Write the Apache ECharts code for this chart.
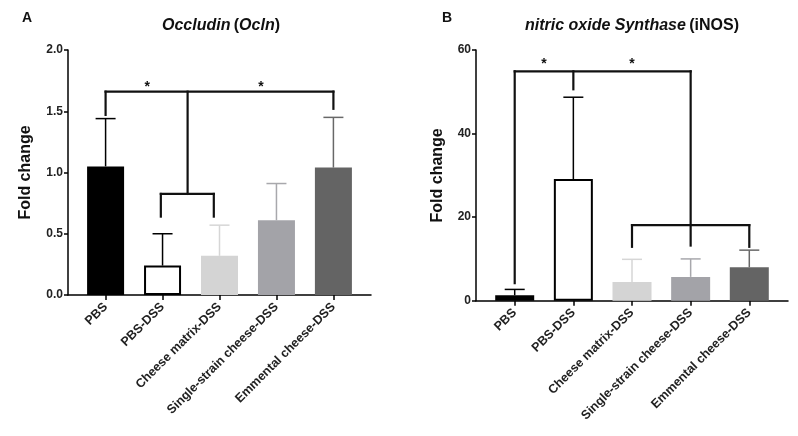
<!DOCTYPE html>
<html><head><meta charset="utf-8">
<script src="https://cdn.jsdelivr.net/npm/echarts@6/dist/echarts.min.js"></script>
<style>html,body{margin:0;padding:0;background:#fff}#c{width:798px;height:436px}</style>
</head><body><div id="c"></div>
<script>
const categories = ['PBS', 'PBS-DSS', 'Cheese matrix-DSS', 'Single-strain cheese-DSS', 'Emmental cheese-DSS'];
const occludinMean = [1.05, 0.24, 0.32, 0.61, 1.04];
const occludinErrTop = [1.44, 0.50, 0.57, 0.91, 1.45];
const inosMean = [1.3, 29.1, 4.5, 5.7, 8.0];
const inosErrTop = [2.7, 48.7, 9.9, 10.0, 12.1];
const yTicksA = [0, 0.5, 1.0, 1.5, 2.0];
const yTicksB = [0, 20, 40, 60];
// significance brackets: segments [x1, y1, x2, y2] in data units
const bracketsA = [[0, 1.47, 0, 1.66], [0, 1.66, 4, 1.66], [4, 1.66, 4, 1.52], [1.44, 1.66, 1.44, 0.825], [0.97, 0.825, 1.9, 0.825], [0.97, 0.825, 0.97, 0.64], [1.9, 0.825, 1.9, 0.64]];
const starsA = [[0.73, 1.70], [2.73, 1.70]];
const bracketsB = [[0, 4.2, 0, 54.9], [0, 54.9, 3, 54.9], [1, 54.9, 1, 50.6], [3, 54.9, 3, 13.2], [2, 18.1, 4, 18.1], [2, 18.1, 2, 12.9], [4, 18.1, 4, 12.9]];
const starsB = [[0.5, 56.5], [2.0, 56.5]];

const barColors = ['#000000', '#ffffff', '#d4d4d4', '#a3a3a8', '#646464'];
const errColors = ['#000000', '#000000', '#d6d6d6', '#a8a8ac', '#686868'];
const FONT = 'Liberation Sans, Arial, sans-serif';

const chart = echarts.init(document.getElementById('c'));

function xAxisCfg(gi) {
  return {
    type: 'value', gridIndex: gi, min: -0.66, max: 4.66,
    splitLine: { show: false },
    axisLine: { show: true, onZero: false, lineStyle: { color: '#000', width: 1.5 } },
    axisTick: { show: true, customValues: [0, 1, 2, 3, 4], length: 5, lineStyle: { color: '#000', width: 1.5 } },
    axisLabel: {
      customValues: [0, 1, 2, 3, 4], rotate: 45, margin: 10,
      formatter: v => categories[Math.round(v)],
      fontWeight: 'bold', fontSize: 12.5, color: '#222', fontFamily: FONT
    }
  };
}
function yAxisCfg(gi, max, interval, dec, gap) {
  return {
    type: 'value', gridIndex: gi, min: 0, max: max, interval: interval,
    name: 'Fold change', nameLocation: 'middle', nameGap: gap, nameRotate: 90,
    nameTextStyle: { fontWeight: 'bold', fontSize: 16, color: '#111', fontFamily: FONT },
    splitLine: { show: false },
    axisLine: { show: true, onZero: false, lineStyle: { color: '#000', width: 1.5 } },
    axisTick: { show: true, length: 4, lineStyle: { color: '#000', width: 1.5 } },
    axisLabel: { formatter: v => v.toFixed(dec), margin: 5, fontWeight: 'bold', fontSize: 12, color: '#222', fontFamily: FONT }
  };
}
function barSeries(gi, means, width) {
  return {
    type: 'bar', xAxisIndex: gi, yAxisIndex: gi, barWidth: width, z: 3,
    data: means.map((m, i) => ({
      value: [i, m],
      itemStyle: { color: barColors[i], borderColor: i === 1 ? '#000' : barColors[i], borderWidth: i === 1 ? 2 : 0 }
    }))
  };
}
function errSeries(gi, means, tops) {
  return {
    type: 'custom', xAxisIndex: gi, yAxisIndex: gi, z: 2,
    data: means.map((m, i) => [i, m, tops[i]]),
    renderItem: (params, api) => {
      const p0 = api.coord([api.value(0), api.value(1)]);
      const p1 = api.coord([api.value(0), api.value(2)]);
      const c = errColors[params.dataIndex];
      return { type: 'group', children: [
        { type: 'line', shape: { x1: p0[0], y1: p0[1], x2: p1[0], y2: p1[1] }, style: { stroke: c, lineWidth: 1.5 } },
        { type: 'line', shape: { x1: p1[0] - 10, y1: p1[1], x2: p1[0] + 10, y2: p1[1] }, style: { stroke: c, lineWidth: 1.5 } }
      ] };
    }
  };
}
function bracketSeries(gi, segs) {
  return {
    type: 'custom', xAxisIndex: gi, yAxisIndex: gi, z: 5,
    data: segs,
    renderItem: (params, api) => {
      const a = api.coord([api.value(0), api.value(1)]);
      const b = api.coord([api.value(2), api.value(3)]);
      return { type: 'line', shape: { x1: a[0], y1: a[1], x2: b[0], y2: b[1] }, style: { stroke: '#111', lineWidth: 2.2, lineCap: 'square' } };
    }
  };
}
function starSeries(gi, stars) {
  return {
    type: 'custom', xAxisIndex: gi, yAxisIndex: gi, z: 5,
    data: stars,
    renderItem: (params, api) => {
      const p = api.coord([api.value(0), api.value(1)]);
      return { type: 'text', x: p[0], y: p[1], style: { text: '*', align: 'center', verticalAlign: 'middle', fontSize: 14, fontWeight: 'bold', fill: '#111', fontFamily: FONT } };
    }
  };
}

const richTitle = {
  i: { fontStyle: 'italic', fontWeight: 'bold', fontSize: 16, fontFamily: FONT, fill: '#111' },
  n: { fontStyle: 'normal', fontWeight: 'bold', fontSize: 16, fontFamily: FONT, fill: '#111' }
};

chart.setOption({
  animation: false,
  backgroundColor: '#fff',
  grid: [
    { left: 68, right: 798 - 371, top: 50, bottom: 436 - 295 },
    { left: 476, right: 10, top: 50, bottom: 436 - 300.7 }
  ],
  xAxis: [xAxisCfg(0), xAxisCfg(1)],
  yAxis: [yAxisCfg(0, 2, 0.5, 1, 34), yAxisCfg(1, 60, 20, 0, 30)],
  graphic: [
    { type: 'text', left: 22, top: 11, style: { text: 'A', fontSize: 14, fontWeight: 'bold', fill: '#111', fontFamily: FONT } },
    { type: 'text', left: 442, top: 11, style: { text: 'B', fontSize: 14, fontWeight: 'bold', fill: '#111', fontFamily: FONT } },
    { type: 'text', x: 221, y: 26, style: { text: '{i|Occludin} {n|(}{i|Ocln}{n|)}', align: 'center', verticalAlign: 'middle', rich: richTitle } },
    { type: 'text', x: 632, y: 26, style: { text: '{i|nitric oxide Synthase} {n|(iNOS)}', align: 'center', verticalAlign: 'middle', rich: richTitle } }
  ],
  series: [
    errSeries(0, occludinMean, occludinErrTop),
    barSeries(0, occludinMean, 37),
    bracketSeries(0, bracketsA),
    starSeries(0, starsA),
    errSeries(1, inosMean, inosErrTop),
    barSeries(1, inosMean, 39),
    bracketSeries(1, bracketsB),
    starSeries(1, starsB)
  ]
});
</script>
</body></html>
